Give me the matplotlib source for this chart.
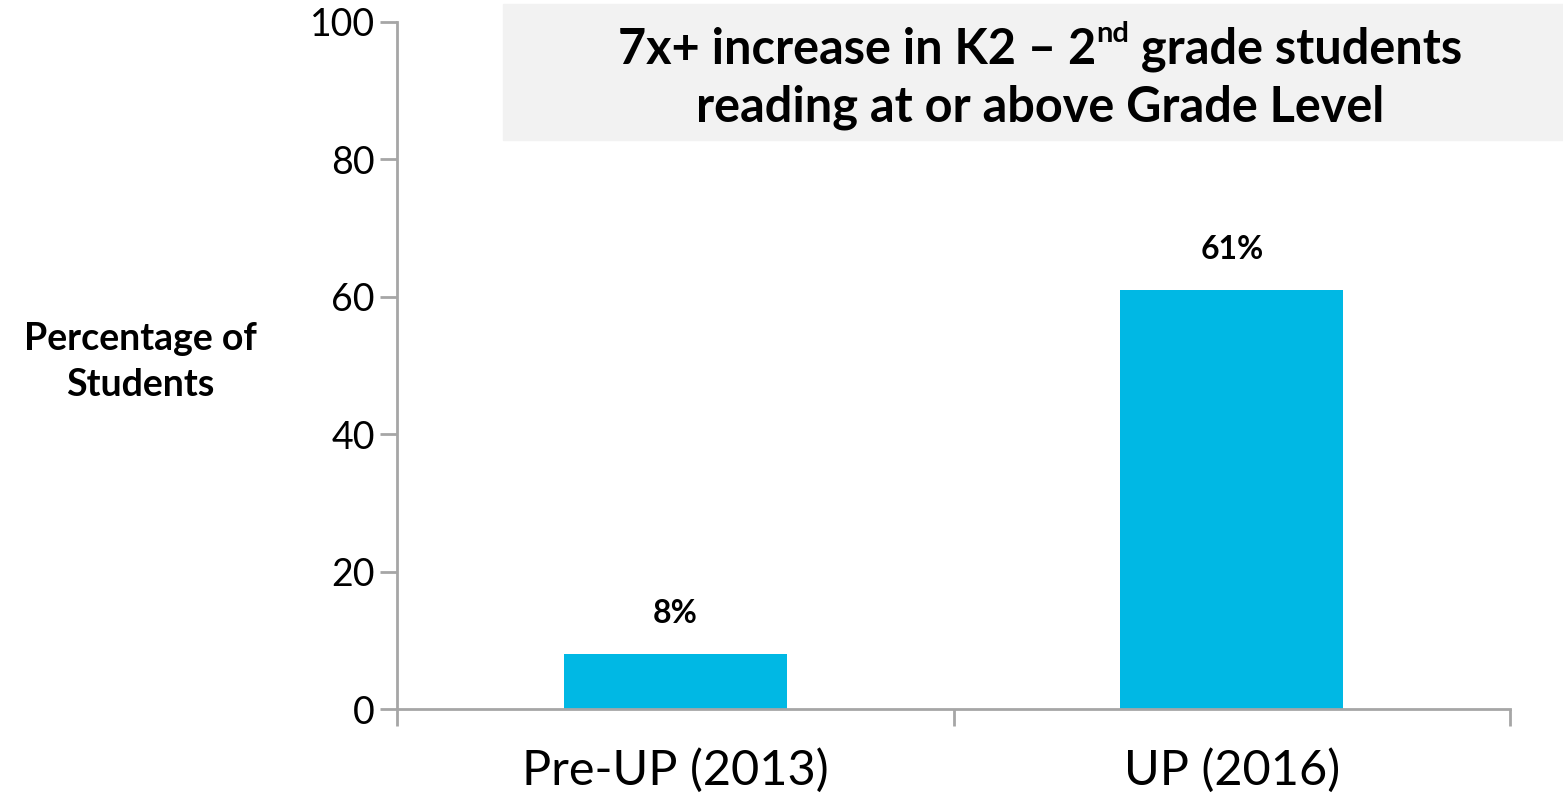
import matplotlib
matplotlib.use("Agg")
import matplotlib.pyplot as plt
from matplotlib.patches import Rectangle

categories = ["Pre-UP (2013)", "UP (2016)"]
values = [8, 61]
value_labels = ["8%", "61%"]
yticks = [0, 20, 40, 60, 80, 100]

bar_color = "#00B8E4"
axis_color = "#A6A6A6"
font = "Lato"

fig = plt.figure(figsize=(15.63, 7.96), dpi=100)
ax = fig.add_axes([397 / 1563, 1 - 709 / 796, 1113 / 1563, 687 / 796])

x = range(len(categories))
ax.bar(x, values, width=0.4, color=bar_color, zorder=2)
for xi, v, lab in zip(x, values, value_labels):
    ax.text(xi, v + 3.8, lab, ha="center", va="bottom", fontsize=23,
            fontweight="bold", family=font)

ax.set_xlim(-0.5, len(categories) - 0.5)
ax.set_ylim(0, 100)
ax.set_yticks(yticks)
ax.set_yticklabels([str(t) for t in yticks], fontsize=27, family=font)
# category boundary ticks, labels placed at centres
ax.set_xticks([-0.5, 0.5, 1.5])
ax.set_xticklabels([])
ax.set_xticks(list(x), minor=True)
ax.set_xticklabels(categories, minor=True, fontsize=35, family=font)
ax.tick_params(axis="x", which="major", length=12, width=2, color=axis_color, direction="out")
ax.tick_params(axis="x", which="minor", length=0, pad=28)
ax.tick_params(axis="y", length=12, width=2, color=axis_color, pad=4)

for s in ["top", "right"]:
    ax.spines[s].set_visible(False)
for s in ["left", "bottom"]:
    ax.spines[s].set_color(axis_color)
    ax.spines[s].set_linewidth(2)

# y label as figure text
fig.text(140 / 1563, 1 - 362 / 796, "Percentage of\nStudents", ha="center", va="center",
         fontsize=27, fontweight="bold", family=font, linespacing=1.4)

# title box
fig.patches.append(Rectangle((503 / 1563, 1 - 140 / 796), 1060 / 1563, 136 / 796,
                             transform=fig.transFigure, color="#F2F2F2", zorder=0))

title_size = 35
line1_parts = [("7x+ increase in K2 \u2013 2", title_size, 0),
               ("nd", title_size * 0.6, 14),
               (" grade students", title_size, 0)]
renderer = fig.canvas.get_renderer()
# measure total width first
widths = []
for txt, sz, _ in line1_parts:
    t = fig.text(0, 0, txt, fontsize=sz, fontweight="bold", family=font)
    widths.append(t.get_window_extent(renderer).width)
    t.remove()
total = sum(widths)
cx = 1040
y1 = 796 - 45
xpos = cx - total / 2
for (txt, sz, dy), w in zip(line1_parts, widths):
    fig.text(xpos / 1563, (y1 + dy) / 796, txt, fontsize=sz, fontweight="bold",
             family=font, ha="left", va="center_baseline")
    xpos += w
fig.text(cx / 1563, (796 - 103) / 796, "reading at or above Grade Level", fontsize=title_size,
         fontweight="bold", family=font, ha="center", va="center_baseline")

fig.savefig("out.png", dpi=100)
